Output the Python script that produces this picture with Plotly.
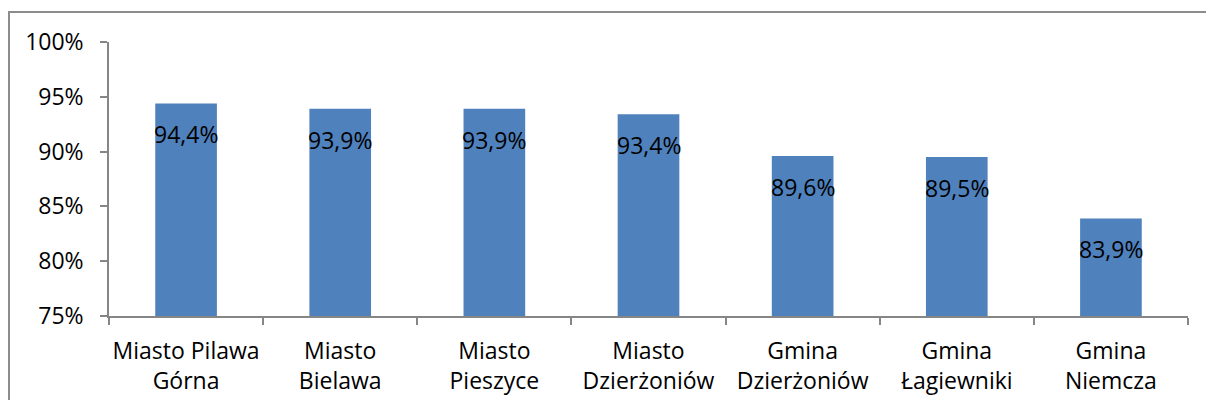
import plotly.graph_objects as go

categories = [
    "Miasto Pilawa<br>Górna",
    "Miasto<br>Bielawa",
    "Miasto<br>Pieszyce",
    "Miasto<br>Dzierżoniów",
    "Gmina<br>Dzierżoniów",
    "Gmina<br>Łagiewniki",
    "Gmina<br>Niemcza",
]
values = [0.944, 0.939, 0.939, 0.934, 0.896, 0.895, 0.839]
labels = ["94,4%", "93,9%", "93,9%", "93,4%", "89,6%", "89,5%", "83,9%"]
y_ticks = [0.75, 0.80, 0.85, 0.90, 0.95, 1.00]
y_tick_text = ["75%", "80%", "85%", "90%", "95%", "100%"]

font_name = "Open Sans"
font_size = 23
axis_grey = "#868686"

fig = go.Figure(
    data=[go.Bar(
        x=categories,
        y=values,
        marker_color='#4F81BD',
        marker_line_width=0,
        width=0.4,
        hoverinfo='skip',
    )]
)

# value labels sit a bit below the top of each bar
for cat, val, lab in zip(categories, values, labels):
    fig.add_annotation(
        x=cat, y=val, text=lab, showarrow=False,
        yanchor='top', yshift=-13,
        font=dict(family=font_name, size=font_size, color='black'),
    )

# outer chart frame (only top and left edges are visible)
fig.add_shape(
    type='rect', xref='paper', yref='paper',
    x0=-0.0927, x1=1.3, y0=-1.0, y1=1.1095,
    line=dict(color='#8c8c8c', width=2),
    layer='below',
)

# the page adds an 8px body margin, so the figure is a bit smaller than the window
fig.update_layout(
    width=1198, height=392,
    margin=dict(l=101, r=18, t=34, b=84, autoexpand=False),
    paper_bgcolor='white',
    plot_bgcolor='white',
    showlegend=False,
    font=dict(family=font_name, size=font_size, color='black'),
    xaxis=dict(
        showline=True, linecolor=axis_grey, linewidth=1.5,
        ticks='outside', tickson='boundaries', ticklen=7,
        tickcolor=axis_grey, tickwidth=1.5,
        showgrid=False, zeroline=False,
        tickangle=0, automargin=False,
        ticklabelstandoff=14,
        tickfont=dict(family=font_name, size=font_size, color='black'),
    ),
    yaxis=dict(
        range=[0.75, 1.0],
        tickvals=y_ticks, ticktext=y_tick_text,
        showline=True, linecolor=axis_grey, linewidth=1.5,
        ticks='outside', ticklen=7, tickcolor=axis_grey, tickwidth=1.5,
        showgrid=False, zeroline=False, automargin=False,
        ticklabelstandoff=12,
        tickfont=dict(family=font_name, size=font_size, color='black'),
    ),
)

fig.write_html("out.html")
